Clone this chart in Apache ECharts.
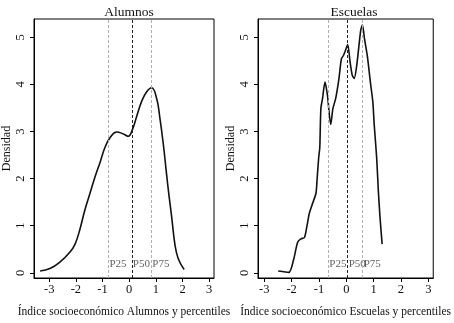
<!DOCTYPE html>
<html>
<head>
<meta charset="utf-8">
<script src="https://cdn.jsdelivr.net/npm/echarts@6/dist/echarts.min.js"></script>
<style>
  html, body { margin: 0; padding: 0; background: #fff; }
</style>
</head>
<body>
<div id="densidad" style="width: 454px; height: 323px;"></div>
<script>
  // curvas de densidad: [indice, densidad]
  var alumnosCurve = [
    [-3.34, 0.04], [-2.97, 0.09], [-2.59, 0.23], [-2.22, 0.44], [-2.03, 0.61],
    [-1.85, 0.92], [-1.66, 1.34], [-1.47, 1.69], [-1.28, 2.04], [-1.09, 2.35],
    [-0.91, 2.66], [-0.72, 2.87], [-0.47, 2.99], [-0.22, 2.95], [-0.03, 2.90],
    [0.12, 3.04], [0.28, 3.32], [0.46, 3.63], [0.65, 3.84], [0.84, 3.93],
    [1.03, 3.70], [1.15, 3.29], [1.28, 2.73], [1.40, 2.10], [1.49, 1.65],
    [1.59, 1.20], [1.72, 0.58], [1.84, 0.30], [2.06, 0.07]
  ];
  var escuelasCurve = [
    [-2.49, 0.04], [-2.10, 0.01], [-1.92, 0.30], [-1.78, 0.65], [-1.66, 0.72],
    [-1.53, 0.75], [-1.44, 0.99], [-1.35, 1.27], [-1.23, 1.48], [-1.11, 1.69],
    [-1.07, 1.97], [-1.01, 2.45], [-0.97, 2.66], [-0.93, 3.49], [-0.87, 3.70],
    [-0.78, 4.05], [-0.69, 3.77], [-0.57, 3.15], [-0.49, 3.49], [-0.39, 3.70],
    [-0.27, 4.12], [-0.18, 4.54], [-0.10, 4.62], [-0.04, 4.71], [0.05, 4.85],
    [0.14, 4.47], [0.22, 4.19], [0.29, 4.13], [0.38, 4.40], [0.46, 4.81],
    [0.53, 5.16], [0.59, 5.26], [0.67, 4.95], [0.77, 4.60], [0.88, 4.05],
    [0.97, 3.63], [1.02, 3.15], [1.11, 2.45], [1.17, 1.76], [1.23, 1.20],
    [1.31, 0.61]
  ];
  var pctLabels = ['P25', 'P50', 'P75'];
  var alumnosPct = [-0.78, 0.10, 0.83];
  var escuelasPct = [-0.66, 0.05, 0.60];
  var xTicks = [-3, -2, -1, 0, 1, 2, 3];
  var yTicks = [0, 1, 2, 3, 4, 5];
  var titles = ['Alumnos', 'Escuelas'];
  var xNames = ['Índice socioeconómico Alumnos y percentiles', 'Índice socioeconómico Escuelas y percentiles'];

  var serif = 'Liberation Serif';
  var chart = echarts.init(document.getElementById('densidad'));

  function xAxisFor(i, min) {
    return {
      gridIndex: i,
      type: 'value',
      min: min,
      max: 3.18,
      name: xNames[i],
      nameLocation: 'middle',
      nameGap: 28,
      nameTextStyle: { color: '#111', fontFamily: serif, fontSize: 11.5 },
      axisLine: { onZero: false, lineStyle: { color: '#000', width: 1 } },
      axisTick: { customValues: xTicks, length: 4, lineStyle: { color: '#000' } },
      axisLabel: { customValues: xTicks, color: '#111', fontFamily: serif, fontSize: 12.5, margin: 5 },
      splitLine: { show: false }
    };
  }
  function yAxisFor(i) {
    return {
      gridIndex: i,
      type: 'value',
      min: -0.11,
      max: 5.39,
      name: 'Densidad',
      nameLocation: 'middle',
      nameGap: 19,
      nameTextStyle: { color: '#111', fontFamily: serif, fontSize: 12 },
      axisLine: { onZero: false, lineStyle: { color: '#000', width: 1 } },
      axisTick: { customValues: yTicks, length: 4, lineStyle: { color: '#000' } },
      axisLabel: { customValues: yTicks, rotate: 90, color: '#111', fontFamily: serif, fontSize: 12.5, margin: 7 },
      splitLine: { show: false }
    };
  }
  function pctLines(vals) {
    return vals.map(function (v, k) {
      return {
        xAxis: v,
        lineStyle: k === 1
          ? { color: '#222', type: [3, 2], width: 1 }
          : { color: '#b0b0b0', type: [3, 2], width: 1 }
      };
    });
  }
  function pctText(vals) {
    return vals.map(function (v, k) { return [v, 0.18, pctLabels[k]]; });
  }
  function curveSeries(i, data, pct, smooth) {
    return {
      type: 'line',
      xAxisIndex: i,
      yAxisIndex: i,
      data: data,
      smooth: smooth,
      showSymbol: false,
      lineStyle: { color: '#111', width: 1.6 },
      markLine: {
        silent: true,
        symbol: 'none',
        label: { show: false },
        data: pctLines(pct)
      },
      z: 3
    };
  }
  function labelSeries(i, pct) {
    return {
      type: 'scatter',
      xAxisIndex: i,
      yAxisIndex: i,
      symbolSize: 0,
      data: pctText(pct),
      label: {
        show: true,
        position: 'right',
        distance: 1,
        formatter: function (p) { return p.value[2]; },
        color: '#3a3a3a',
        fontFamily: serif,
        fontSize: 11
      }
    };
  }

  var option = {
    backgroundColor: '#fff',
    animation: false,
    title: [
      { text: titles[0], left: 124, top: 0, textAlign: 'center',
        textStyle: { color: '#111', fontFamily: serif, fontSize: 13.5, fontWeight: 'normal' } },
      { text: titles[1], left: 349, top: 0, textAlign: 'center',
        textStyle: { color: '#111', fontFamily: serif, fontSize: 13.5, fontWeight: 'normal' } }
    ],
    grid: [
      { left: 34, top: 19, width: 180, height: 264, show: true, borderColor: '#000', borderWidth: 1 },
      { left: 258, top: 19, width: 181, height: 264, show: true, borderColor: '#000', borderWidth: 1 }
    ],
    xAxis: [xAxisFor(0, -3.57), xAxisFor(1, -3.23)],
    yAxis: [yAxisFor(0), yAxisFor(1)],
    series: [
      curveSeries(0, alumnosCurve, alumnosPct, 0.45),
      curveSeries(1, escuelasCurve, escuelasPct, 0.25),
      labelSeries(0, alumnosPct),
      labelSeries(1, escuelasPct)
    ]
  };
  chart.setOption(option);
</script>
</body>
</html>
